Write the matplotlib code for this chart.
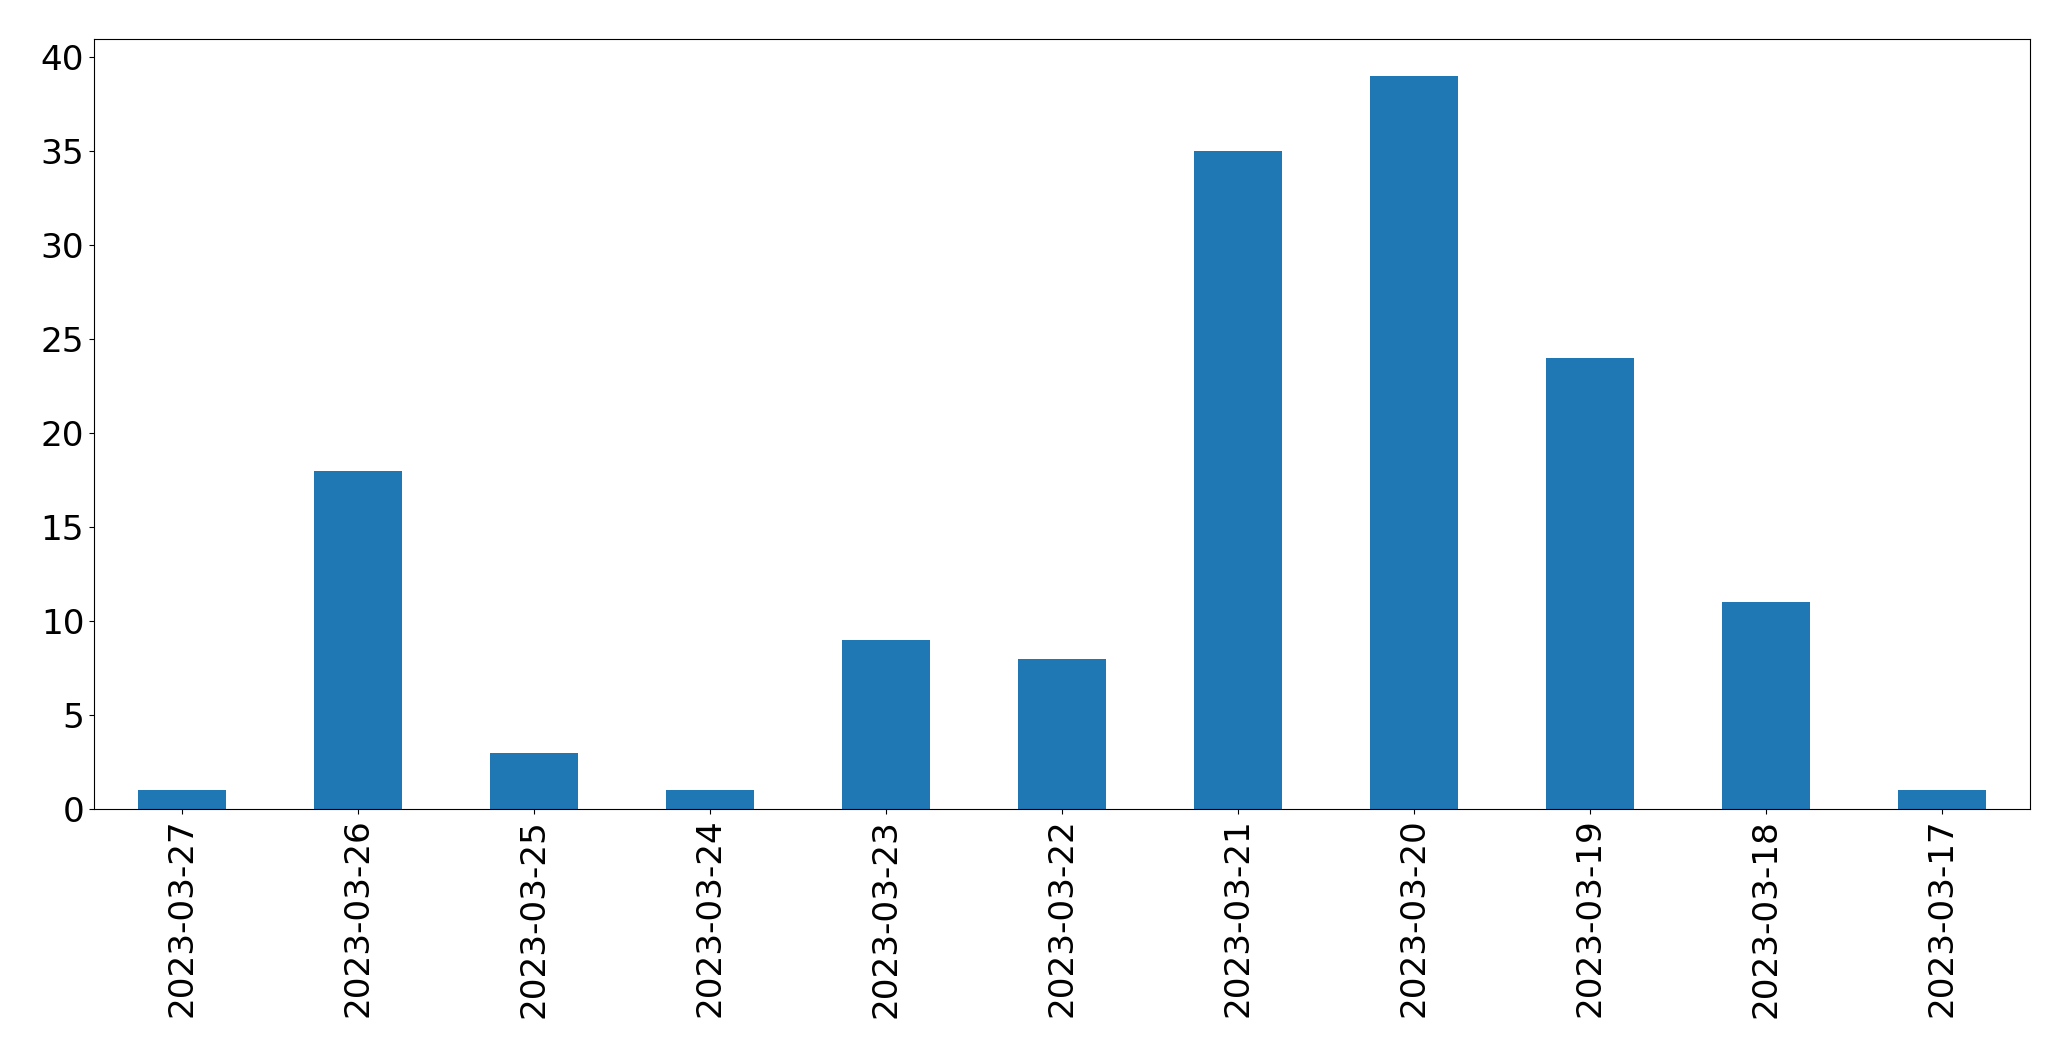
import pandas as pd
import matplotlib
matplotlib.use('Agg')
import matplotlib.pyplot as plt

dates = ['2023-03-27', '2023-03-26', '2023-03-25', '2023-03-24', '2023-03-23',
         '2023-03-22', '2023-03-21', '2023-03-20', '2023-03-19', '2023-03-18',
         '2023-03-17']
counts = [1, 18, 3, 1, 9, 8, 35, 39, 24, 11, 1]

s = pd.Series(counts, index=dates)

fig = plt.figure(figsize=(20.71, 10.61), dpi=100)
ax = fig.add_axes([0.0454, 0.2375, 0.9346, 0.7255])
s.plot(kind='bar', ax=ax, color='#1f77b4')
ax.tick_params(axis='both', labelsize=24.7)
fig.savefig('out.png', dpi=100)
